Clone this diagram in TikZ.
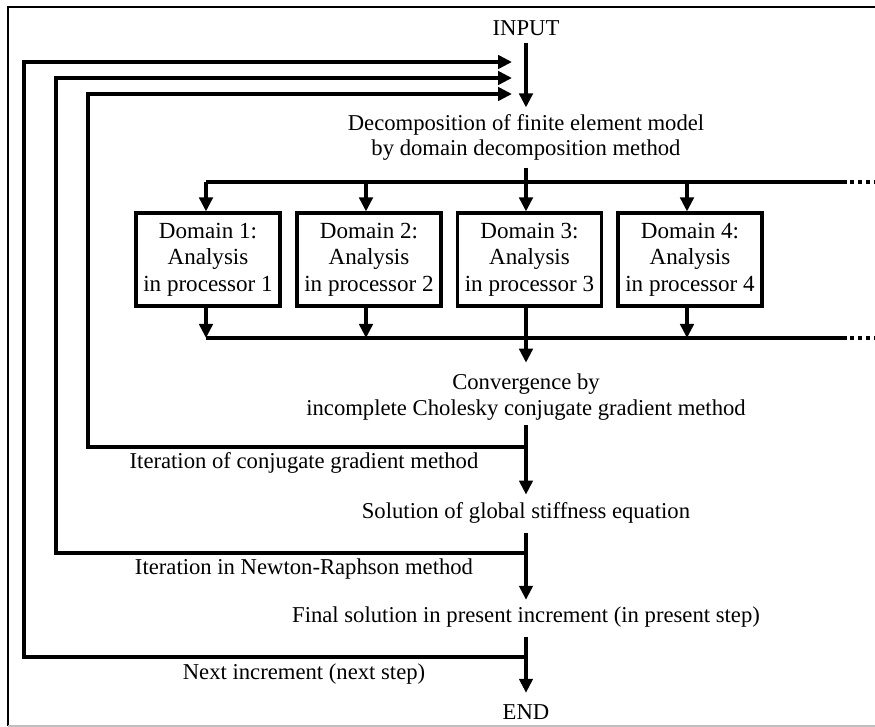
\documentclass[tikz,border=0pt]{standalone}
\usepackage{fontspec}
\setmainfont{Liberation Serif}
\usetikzlibrary{arrows.meta}
\begin{document}
\begin{tikzpicture}[x=0.75pt,y=-0.75pt,
  txt/.style={inner sep=0pt, align=center, font=\fontsize{17}{19}\selectfont},
  dbox/.style={draw, line width=2.3pt, minimum width=108pt, minimum height=69.75pt, inner sep=0pt, align=center, font=\fontsize{17.3}{20}\selectfont},
  flow/.style={line width=3pt},
  arr/.style={flow, -{Triangle[length=10.5pt,width=10pt]}},
  dots/.style={line width=2.4pt, dash pattern=on 2.4pt off 3.6pt}
  ]
\useasboundingbox (0,0) rectangle (875,727);
% frame
\draw[line width=2pt] (880,7) -- (8,7) -- (8,726);
\draw[black!25, line width=1pt] (8,726) -- (880,726);

% text nodes
\node[txt] (input) at (526,28) {INPUT};
\node[txt] (decomp) at (526,137.5) {Decomposition of finite element model\\by domain decomposition method};
\node[dbox] (d1) at (208,259.5) {Domain 1:\\Analysis\\in processor 1};
\node[dbox] (d2) at (369,259.5) {Domain 2:\\Analysis\\in processor 2};
\node[dbox] (d3) at (529.5,259.5) {Domain 3:\\Analysis\\in processor 3};
\node[dbox] (d4) at (690,259.5) {Domain 4:\\Analysis\\in processor 4};
\node[txt] (conv) at (526,397) {Convergence by\\incomplete Cholesky conjugate gradient method};
\node[txt] (itcg) at (304,463) {Iteration of conjugate gradient method};
\node[txt] (sol) at (526,513) {Solution of global stiffness equation};
\node[txt] (itnr) at (304,569) {Iteration in Newton-Raphson method};
\node[txt] (fin) at (526,617) {Final solution in present increment (in present step)};
\node[txt] (next) at (304,674) {Next increment (next step)};
\node[txt] (endn) at (526,712) {END};

% coordinates
\coordinate (tbL) at (206,182);
\coordinate (tbR) at (847,182);
\coordinate (tbE) at (876,182);
\coordinate (bbL) at (206,338);
\coordinate (bbR) at (847,338);
\coordinate (bbE) at (876,338);
\coordinate (a1) at (206,0);
\coordinate (a2) at (366,0);
\coordinate (a3) at (526,0);
\coordinate (a4) at (687,0);
\coordinate (j3) at (526,447);
\coordinate (j2) at (526,553);
\coordinate (j1) at (526,657);
\coordinate (l3) at (88,94);
\coordinate (l2) at (56,78);
\coordinate (l1) at (24,62);
\coordinate (f3) at (512,94);
\coordinate (f2) at (512,78);
\coordinate (f1) at (512,62);

% main flow
\draw[arr, shorten <=5.6pt, shorten >=5pt] (input) -- (decomp);
\draw[flow, shorten <=5pt] (decomp.south) -- (decomp.south |- tbL);
\draw[flow] (tbL) -- (tbR);
\draw[dots] ([xshift=2.5pt]tbR) -- (tbE);
\draw[arr] (a1 |- tbL) -- (a1 |- d1.north);
\draw[arr] (a2 |- tbL) -- (a2 |- d2.north);
\draw[arr] (a3 |- tbL) -- (a3 |- d3.north);
\draw[arr] (a4 |- tbL) -- (a4 |- d4.north);
\draw[arr] (a1 |- d1.south) -- (a1 |- bbL);
\draw[arr] (a2 |- d2.south) -- (a2 |- bbL);
\draw[arr] (a4 |- d4.south) -- (a4 |- bbL);
\draw[flow] (bbL) -- (bbR);
\draw[dots] ([xshift=2.5pt]bbR) -- (bbE);
\draw[arr, shorten >=8.3pt] (a3 |- d3.south) -- (conv.north);
\draw[arr, shorten <=3.75pt, shorten >=5.8pt] (conv.south) -- (sol.north);
\draw[arr, shorten <=6.8pt, shorten >=5pt] (sol.south) -- (fin.north);
\draw[arr, shorten <=6.8pt, shorten >=8.6pt] (fin.south) -- (endn.north);

% feedback loops
\draw[arr] (j3) -| (l3) -- (f3);
\draw[arr] (j2) -| (l2) -- (f2);
\draw[arr] (j1) -| (l1) -- (f1);
\end{tikzpicture}
\end{document}
